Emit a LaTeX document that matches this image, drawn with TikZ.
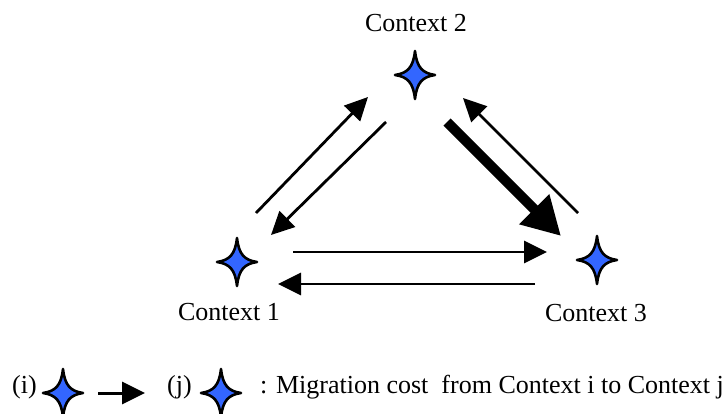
\documentclass[tikz,border=0pt]{standalone}
\usepackage{fontspec}
\setmainfont{Liberation Serif}
\usetikzlibrary{arrows.meta}
\definecolor{starblue}{RGB}{51,102,255}
\tikzset{
  lbl/.style={inner sep=0pt, font=\fontsize{26}{30}\selectfont},
  thinarrow/.style={line width=2.8pt, -{Triangle[length=23pt,width=22pt]}},
  thickarrow/.style={line width=10pt, -{Triangle[length=38pt,width=40pt]}},
  sparkle/.pic={
    \draw[line width=2.6pt, line join=round, fill=starblue]
      (0,-24) .. controls (1.8,-7.5) and (7.5,-1.8) .. (20,0)
              .. controls (7.5,1.8) and (1.8,7.5) .. (0,24)
              .. controls (-1.8,7.5) and (-7.5,1.8) .. (-20,0)
              .. controls (-7.5,-1.8) and (-1.8,-7.5) .. cycle;
  }
}
\begin{document}
\begin{tikzpicture}[x=1pt, y=-1pt]
  \useasboundingbox (0,0) rectangle (726,414);

  % contexts
  \coordinate (s1) at (237,262);
  \coordinate (s2) at (415,75);
  \coordinate (s3) at (597,260);
  \pic at (s1) {sparkle};
  \pic at (s2) {sparkle};
  \pic at (s3) {sparkle};
  \node[lbl, anchor=base] (t2) at (416,32) {Context 2};
  \node[lbl, anchor=base] (t1) at (229,320) {Context 1};
  \node[lbl, anchor=base] (t3) at (596,321) {Context 3};

  % migration arrows
  \coordinate (a12s) at (256,213);  \coordinate (a12e) at (368,97);
  \coordinate (a21s) at (386,122);  \coordinate (a21e) at (271,235);
  \coordinate (a23s) at (447,122);  \coordinate (a23e) at (561,236);
  \coordinate (a32s) at (578,213);  \coordinate (a32e) at (463,98);
  \coordinate (a13s) at (293,252);  \coordinate (a13e) at (547,252);
  \coordinate (a31s) at (535,284);  \coordinate (a31e) at (278,284);
  \draw[thinarrow] (a12s) -- (a12e);
  \draw[thinarrow] (a21s) -- (a21e);
  \draw[thickarrow] (a23s) -- (a23e);
  \draw[thinarrow] (a32s) -- (a32e);
  \draw[thinarrow] (a13s) -- (a13e);
  \draw[thinarrow] (a31s) -- (a31e);

  % legend
  \node[lbl, anchor=base west] (li) at (12,393) {(i)};
  \coordinate (ls1) at (63,393);
  \pic at (ls1) {sparkle};
  \coordinate (las) at (98,393);  \coordinate (lae) at (145,393);
  \draw[line width=3pt, -{Triangle[length=23pt,width=22pt]}] (las) -- (lae);
  \node[lbl, anchor=base west] (lj) at (167,393) {(j)};
  \coordinate (ls2) at (221,393);
  \pic at (ls2) {sparkle};
  \node[lbl, anchor=base west] (lt) at (260,393) {: Migration cost\ \ from Context i to Context j};
\end{tikzpicture}
\end{document}
